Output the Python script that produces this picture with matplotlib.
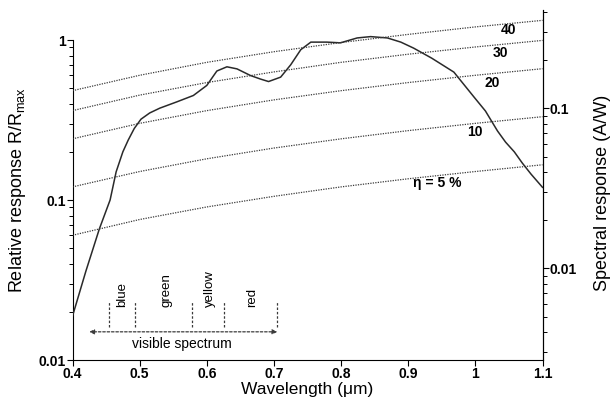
import numpy as np
import matplotlib
matplotlib.use('Agg')
import matplotlib.pyplot as plt
from matplotlib.ticker import FuncFormatter, LogLocator, NullFormatter

plt.rcParams['font.family'] = ['Liberation Sans', 'DejaVu Sans']
plt.rcParams['mathtext.default'] = 'regular'

# measured relative response of the detector
wavelength = [0.400, 0.420, 0.440, 0.456, 0.465, 0.475, 0.483, 0.492, 0.502, 0.515,
              0.530, 0.555, 0.580, 0.600, 0.615, 0.630, 0.645, 0.665, 0.680, 0.692,
              0.710, 0.725, 0.740, 0.755, 0.779, 0.799, 0.824, 0.844, 0.869, 0.889,
              0.908, 0.935, 0.968, 0.998, 1.015, 1.033, 1.045, 1.058, 1.070, 1.083,
              1.100]
rel_response = [0.0188, 0.036, 0.066, 0.10, 0.15, 0.20, 0.237, 0.28, 0.32, 0.35,
                0.375, 0.41, 0.45, 0.52, 0.64, 0.68, 0.66, 0.60, 0.57, 0.55,
                0.586, 0.70, 0.87, 0.97, 0.97, 0.96, 1.03, 1.05, 1.03, 0.97,
                0.89, 0.77, 0.63, 0.44, 0.36, 0.27, 0.23, 0.20, 0.17, 0.145,
                0.12]

# constant quantum efficiency lines, spectral response in A/W
eta_wl = [0.4, 0.5, 0.6, 0.7, 0.8, 0.9, 1.0, 1.1]
eta_5 = [0.0161, 0.0202, 0.0242, 0.0282, 0.0323, 0.0363, 0.0403, 0.0444]
eta_10 = [0.0323, 0.0403, 0.0484, 0.0565, 0.0645, 0.0726, 0.0806, 0.0887]
eta_20 = [0.0645, 0.0806, 0.0968, 0.113, 0.129, 0.145, 0.161, 0.177]
eta_30 = [0.0968, 0.121, 0.145, 0.169, 0.194, 0.218, 0.242, 0.266]
eta_40 = [0.129, 0.161, 0.194, 0.226, 0.258, 0.290, 0.323, 0.355]
eta_lines = [eta_5, eta_10, eta_20, eta_30, eta_40]
eta_labels = ['η = 5 %', '10', '20', '30', '40']
eta_label_pos = [(0.943, 0.128), (1.000, 0.267), (1.025, 0.54), (1.038, 0.83), (1.050, 1.155)]

# visible spectrum bands
band_edges = [0.455, 0.493, 0.578, 0.626, 0.705]
band_names = ['blue', 'green', 'yellow', 'red']
band_label_x = [0.474, 0.540, 0.604, 0.668]

fig = plt.figure(figsize=(6.16, 4.04), dpi=100)
ax = fig.add_axes([72.5 / 616, 44 / 404, 470 / 616, 350 / 404])
ax2 = ax.twinx()

ax.plot(wavelength, rel_response, color='#2a2a2a', lw=1.1, zorder=3)

for vals in eta_lines:
    ax2.plot(eta_wl, vals, color='#3a3a3a', lw=0.9, ls=(0, (1, 1)))

for lab, (x, y) in zip(eta_labels, eta_label_pos):
    ax.text(x, y, lab, ha='center', va='center', fontsize=10, fontweight='bold')

ax.set_xlim(0.4, 1.1)
ax.set_yscale('log')
ax.set_ylim(0.01, 1.54)
ax2.set_yscale('log')
ax2.set_ylim(0.002674, 0.412)

ax.set_xticks([0.4, 0.5, 0.6, 0.7, 0.8, 0.9, 1.0, 1.1])
ax.xaxis.set_major_formatter(FuncFormatter(lambda v, p: f'{v:g}'))
ax.set_yticks([0.01, 0.1, 1])
ax.yaxis.set_major_formatter(FuncFormatter(lambda v, p: f'{v:g}'))
ax.yaxis.set_minor_locator(LogLocator(base=10, subs=np.arange(2, 10)))
ax.yaxis.set_minor_formatter(NullFormatter())
ax2.set_yticks([0.01, 0.1])
ax2.yaxis.set_major_formatter(FuncFormatter(lambda v, p: f'{v:g}'))
ax2.yaxis.set_minor_locator(LogLocator(base=10, subs=np.arange(2, 10)))
ax2.yaxis.set_minor_formatter(NullFormatter())

for a in (ax, ax2):
    a.spines['top'].set_visible(False)
    a.tick_params(which='major', length=4, width=0.8, labelsize=10, pad=1)
    a.tick_params(which='minor', length=3, width=0.7)
    for t in a.get_xticklabels() + a.get_yticklabels():
        t.set_fontweight('bold')
ax.spines['left'].set_bounds(0.01, 1)
ax2.spines['left'].set_visible(False)
ax2.spines['bottom'].set_visible(False)

ax.set_xlabel('Wavelength (μm)', fontsize=12.5, labelpad=1)
ax.set_ylabel('Relative response R/R$_{max}$', fontsize=13)
ax.yaxis.set_label_coords(-0.095, 0.485)
ax2.set_ylabel('Spectral response (A/W)', fontsize=13)
ax2.yaxis.set_label_coords(1.11, 0.477)

# visible spectrum markers
for x in band_edges:
    ax.plot([x, x], [0.0161, 0.023], color='#3a3a3a', lw=0.9, ls=(0, (2, 1.5)))
for name, x in zip(band_names, band_label_x):
    ax.text(x, 0.0214, name, rotation=90, ha='center', va='bottom', fontsize=9.5)
ax.annotate('', xy=(0.425, 0.0150), xytext=(0.705, 0.0150),
            arrowprops=dict(arrowstyle='<|-|>', color='#3a3a3a', lw=0.9,
                            linestyle=(0, (2, 1.5)), mutation_scale=7,
                            shrinkA=0, shrinkB=0))
ax.text(0.563, 0.0126, 'visible spectrum', ha='center', va='center', fontsize=10)

fig.savefig('out.png', dpi=100)
